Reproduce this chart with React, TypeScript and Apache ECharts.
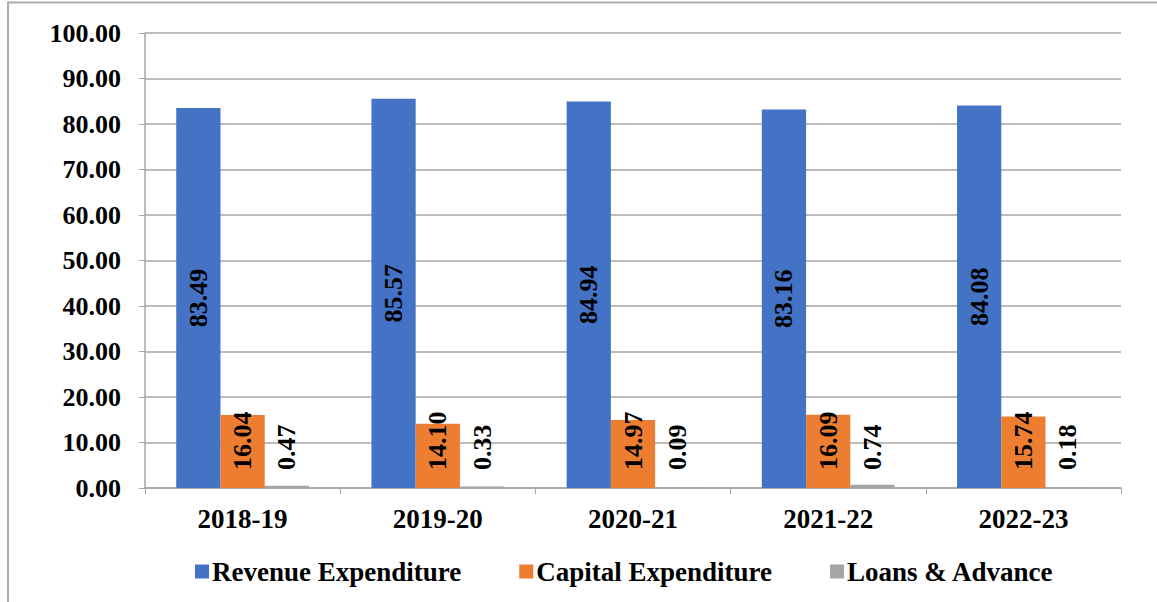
import React, { useEffect, useRef } from "react";
import * as echarts from "echarts";

const categories = ["2018-19", "2019-20", "2020-21", "2021-22", "2022-23"];
const revenueExpenditure = [83.49, 85.57, 84.94, 83.16, 84.08];
const capitalExpenditure = [16.04, 14.1, 14.97, 16.09, 15.74];
const loansAdvance = [0.47, 0.33, 0.09, 0.74, 0.18];
const seriesNames = ["Revenue Expenditure", "Capital Expenditure", "Loans & Advance"];

const FONT = "'Liberation Serif', 'Times New Roman', serif";

export default function App() {
  const ref = useRef<HTMLDivElement>(null);
  useEffect(() => {
    if (!ref.current) return;
    const chart = echarts.init(ref.current, null, { renderer: "svg" });
    const fmt = (p: any) => Number(p.value).toFixed(2);
    const labelBase = {
      show: true,
      rotate: 90,
      color: "#000",
      fontFamily: FONT,
      fontWeight: "bold" as const,
      fontSize: 26,
      formatter: fmt,
    };
    const bottomLabel = { ...labelBase, position: "insideBottom", align: "left", verticalAlign: "middle", distance: 18 };
    chart.setOption({
      animation: false,
      backgroundColor: "#fff",
      textStyle: { fontFamily: FONT },
      graphic: [
        {
          type: "rect",
          shape: { x: 8, y: 2.5, width: 1300, height: 800 },
          style: { fill: "none", stroke: "#ababab", lineWidth: 2 },
          silent: true,
        },
      ],
      grid: { left: 145, right: 36, top: 33, bottom: 114, containLabel: false },
      legend: {
        bottom: 12,
        left: 190,
        itemWidth: 14,
        itemHeight: 14,
        itemGap: 58,
        icon: "rect",
        textStyle: { fontFamily: FONT, fontWeight: "bold", fontSize: 27, color: "#000", padding: [0, 0, 0, -2] },
        data: seriesNames,
      },
      xAxis: {
        type: "category",
        data: categories,
        axisLine: { lineStyle: { color: "#a6a6a6", width: 1.5 } },
        axisTick: { show: true, length: 6, lineStyle: { color: "#a6a6a6" } },
        axisLabel: { color: "#000", fontFamily: FONT, fontWeight: "bold", fontSize: 27, margin: 17 },
      },
      yAxis: {
        type: "value",
        min: 0,
        max: 100,
        interval: 10,
        axisLine: { show: true, lineStyle: { color: "#a6a6a6", width: 1.5 } },
        axisTick: { show: true, length: 6, lineStyle: { color: "#a6a6a6" } },
        splitLine: { lineStyle: { color: "#a6a6a6", width: 1.5 } },
        axisLabel: {
          color: "#000",
          fontFamily: FONT,
          fontWeight: "bold",
          fontSize: 26,
          margin: 24,
          formatter: (v: number) => v.toFixed(2),
        },
      },
      series: [
        {
          name: seriesNames[0],
          type: "bar",
          data: revenueExpenditure,
          barGap: "0%",
          barCategoryGap: "32%",
          itemStyle: { color: "#4472C4" },
          label: { ...labelBase, position: "inside" },
        },
        {
          name: seriesNames[1],
          type: "bar",
          data: capitalExpenditure,
          barGap: "0%",
          barCategoryGap: "32%",
          itemStyle: { color: "#ED7D31" },
          label: bottomLabel,
        },
        {
          name: seriesNames[2],
          type: "bar",
          data: loansAdvance,
          barGap: "0%",
          barCategoryGap: "32%",
          itemStyle: { color: "#A5A5A5" },
          label: bottomLabel,
        },
      ],
    });
    return () => chart.dispose();
  }, []);
  return (
    <div
      ref={ref}
      style={{ position: "absolute", left: 0, top: 0, width: 1157, height: 602 }}
    />
  );
}
